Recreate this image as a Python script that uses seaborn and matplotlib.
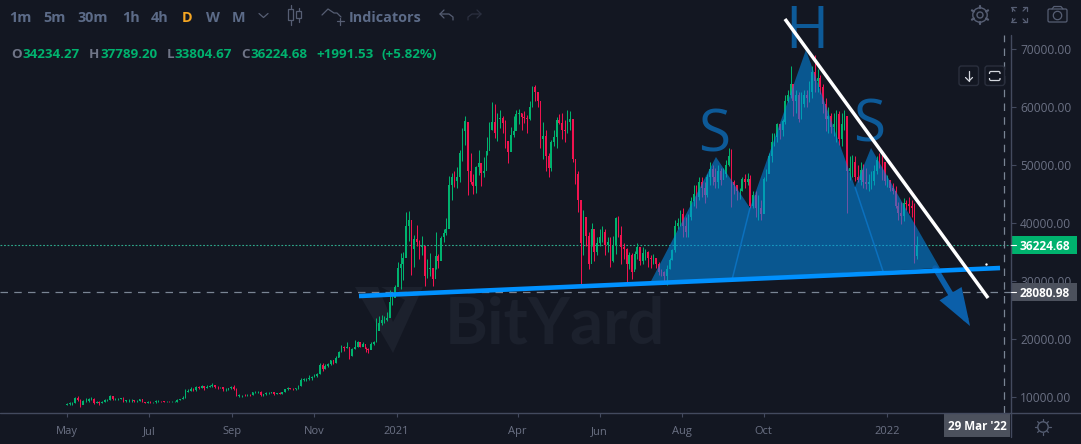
import numpy as np
import pandas as pd
import seaborn as sns
import matplotlib
matplotlib.use("Agg")
import matplotlib.pyplot as plt
from matplotlib.patches import Polygon, Rectangle, FancyBboxPatch, Circle, FancyArrowPatch
from matplotlib.ticker import FixedLocator, FixedFormatter, FormatStrFormatter

# Two-day BTC candles from 1 May 2020, prices in thousands of USD, grouped by month
closes_k = [
    8.8, 8.9, 9.0, 9.9, 9.5, 8.6, 9.3, 9.3, 9.7, 9.7, 9.0, 9.2, 8.9, 9.2, 9.4, 9.4,
    10.2, 9.6, 9.6, 9.7, 9.8, 9.3, 9.4, 9.4, 9.4, 9.3, 9.3, 9.6, 9.2, 9.0, 9.2,
    9.1, 9.1, 9.3, 9.3, 9.25, 9.2, 9.2, 9.15, 9.15, 9.2, 9.5, 9.6, 9.9, 10.9, 11.1,
    11.4, 11.2, 11.7, 11.6, 11.9, 11.6, 11.8, 11.9, 12.0, 11.8, 11.7, 11.7, 11.3, 11.4, 11.5, 11.7,
    11.4, 10.2, 10.3, 10.4, 10.3, 10.4, 10.3, 10.8, 10.9, 10.9, 10.4, 10.5, 10.7, 10.7, 10.8,
    10.6, 10.7, 10.6, 10.9, 11.3, 11.5, 11.4, 11.3, 11.5, 11.9, 12.9, 13.1, 13.1, 13.3, 13.5,
    13.7, 14.0, 15.6, 14.8, 15.3, 15.7, 16.3, 15.9, 16.7, 17.8, 18.7, 18.4, 18.7, 17.1, 18.2,
    18.7, 19.4, 18.7, 19.2, 18.2, 18.1, 19.2, 19.4, 21.3, 22.7, 23.2, 23.2, 23.7, 26.3, 27.0, 29.0,
    32.2, 33.0, 33.9, 39.4, 40.6, 35.5, 37.3, 36.8, 35.8, 36.0, 30.8, 32.0, 32.3, 30.4, 34.3,
    33.5, 37.5, 38.3, 39.0, 46.5, 47.9, 47.2, 47.9, 52.1, 55.9, 57.5, 48.9, 47.0, 46.3,
    49.6, 50.4, 48.6, 48.9, 52.4, 56.0, 57.4, 55.6, 57.9, 58.1, 57.3, 54.1, 52.3, 55.1, 55.8, 58.8,
    59.0, 58.2, 58.1, 57.9, 60.0, 63.4, 62.5, 61.0, 54.5, 55.0, 51.5, 49.5, 54.0, 54.9, 57.7,
    57.3, 56.0, 55.9, 57.5, 58.0, 51.0, 48.5, 44.0, 36.5, 41.0, 37.8, 33.0, 39.0, 35.0, 36.5,
    37.5, 38.5, 36.2, 36.8, 33.4, 36.0, 40.8, 38.0, 35.8, 35.5, 33.0, 34.5, 31.5, 34.6, 35.9,
    33.5, 34.8, 35.0, 34.0, 33.8, 34.0, 33.0, 31.6, 31.5, 30.9, 32.1, 33.6, 35.3, 39.4, 40.0, 41.5,
    39.5, 38.5, 41.0, 43.8, 45.0, 44.5, 47.0, 46.0, 44.8, 48.0, 49.3, 48.0, 47.0, 49.0, 47.5,
    48.5, 50.0, 51.5, 47.0, 46.5, 45.5, 45.5, 47.5, 47.0, 47.5, 43.0, 44.8, 42.5, 42.5, 41.5,
    47.5, 48.5, 51.5, 54.0, 54.8, 57.0, 56.0, 57.5, 61.0, 62.0, 64.0, 61.0, 62.0, 58.0, 60.5, 62.0,
    61.5, 62.5, 66.0, 64.5, 65.0, 63.5, 60.5, 58.0, 58.5, 56.5, 57.0, 58.8, 54.5, 57.0, 58.5,
    49.0, 49.5, 50.5, 48.0, 47.5, 49.2, 47.0, 46.8, 47.0, 47.2, 49.0, 50.8, 50.6, 50.5, 47.3,
    47.5, 46.0, 45.5, 43.0, 41.8, 41.2, 43.5, 43.2, 43.0, 42.6, 34.23427, 36.22468,
]
highs_k = [
    9.0, 9.2, 9.2, 10.0, 10.1, 9.6, 9.4, 9.8, 9.9, 10.0, 9.8, 9.3, 9.3, 9.3, 9.6, 9.7,
    10.4, 10.2, 9.9, 9.8, 9.9, 10.0, 9.5, 9.6, 9.6, 9.5, 9.4, 9.7, 9.7, 9.2, 9.3,
    9.3, 9.2, 9.4, 9.4, 9.35, 9.3, 9.3, 9.3, 9.25, 9.3, 9.6, 9.7, 10.1, 11.3, 11.4,
    11.7, 11.5, 11.9, 11.9, 12.1, 11.9, 12.0, 12.0, 12.5, 12.1, 11.9, 11.8, 11.8, 11.5, 11.6, 11.9,
    12.0, 11.5, 10.6, 10.4, 10.6, 10.5, 10.6, 10.9, 11.0, 11.1, 11.0, 10.6, 10.8, 10.9, 10.9,
    10.8, 10.7, 10.8, 10.9, 11.4, 11.7, 11.5, 11.5, 11.5, 12.0, 13.2, 13.2, 13.3, 13.8, 13.6,
    13.9, 14.2, 15.8, 15.9, 15.7, 15.9, 16.4, 16.2, 17.0, 18.0, 18.9, 18.8, 19.4, 17.6, 18.4,
    19.9, 19.6, 19.3, 19.4, 18.7, 18.5, 19.4, 19.6, 23.7, 23.9, 24.1, 23.9, 24.7, 28.4, 27.5, 29.3,
    33.3, 34.8, 35.0, 41.9, 42.0, 38.3, 38.0, 39.6, 37.0, 37.8, 35.5, 33.8, 34.8, 32.0, 38.5,
    34.6, 37.7, 38.9, 40.9, 48.1, 48.6, 48.9, 49.7, 52.6, 56.3, 58.4, 54.2, 52.0, 48.4,
    49.9, 52.6, 49.2, 51.4, 54.9, 57.4, 60.9, 60.6, 58.9, 59.5, 58.5, 57.8, 53.9, 56.6, 58.4, 59.5,
    59.7, 59.0, 59.3, 58.7, 61.0, 63.6, 63.8, 62.5, 58.0, 57.5, 56.0, 52.0, 54.3, 56.0, 58.3,
    58.8, 59.0, 57.8, 59.5, 59.3, 58.0, 50.8, 49.0, 41.8, 42.2, 41.0, 38.5, 40.0, 39.0, 37.5,
    39.0, 39.5, 39.0, 37.5, 37.5, 37.8, 41.0, 41.2, 39.5, 36.5, 35.7, 35.0, 34.8, 35.2, 36.5,
    35.2, 35.8, 35.5, 35.1, 34.5, 34.6, 34.0, 33.2, 32.0, 31.8, 32.8, 33.9, 35.5, 40.5, 40.9, 42.3,
    42.6, 41.0, 41.5, 44.5, 46.5, 46.5, 48.0, 48.0, 47.0, 48.5, 50.5, 50.0, 49.5, 50.0, 49.5,
    49.5, 50.8, 52.9, 52.8, 47.5, 46.5, 46.0, 48.0, 48.5, 48.6, 48.3, 45.5, 45.5, 44.8, 44.0,
    48.0, 49.3, 52.0, 55.5, 55.5, 57.3, 56.8, 58.0, 62.0, 63.0, 67.0, 63.5, 63.0, 62.5, 62.5, 63.0,
    63.0, 64.5, 67.0, 69.0, 66.5, 65.5, 64.0, 61.5, 60.0, 59.0, 59.0, 59.5, 59.3, 59.0, 59.5,
    57.0, 51.5, 51.8, 51.5, 50.0, 50.5, 50.2, 49.5, 48.5, 49.0, 50.0, 51.5, 52.0, 51.9, 50.5,
    48.2, 46.9, 46.9, 46.3, 43.7, 43.6, 44.3, 44.0, 44.5, 44.0, 43.5, 37.7892,
]
lows_k = [
    8.6, 8.7, 8.7, 9.0, 9.3, 8.2, 8.8, 9.1, 9.2, 9.5, 8.8, 9.0, 8.7, 8.9, 9.2, 9.3,
    9.4, 9.4, 9.4, 9.5, 9.6, 9.1, 9.2, 9.2, 9.2, 9.2, 9.2, 9.3, 9.1, 8.9, 9.0,
    9.0, 9.0, 9.0, 9.2, 9.1, 9.1, 9.1, 9.1, 9.1, 9.1, 9.2, 9.4, 9.6, 9.9, 10.9,
    11.0, 11.0, 11.1, 11.4, 11.6, 11.2, 11.5, 11.7, 11.7, 11.6, 11.4, 11.5, 11.1, 11.1, 11.2, 11.4,
    11.2, 10.1, 10.0, 10.0, 10.2, 10.2, 10.2, 10.3, 10.7, 10.7, 10.2, 10.1, 10.4, 10.6, 10.7,
    10.4, 10.5, 10.5, 10.5, 10.9, 11.2, 11.3, 11.2, 11.2, 11.4, 11.9, 12.7, 12.8, 12.9, 13.0,
    13.4, 13.4, 13.9, 14.4, 14.8, 15.2, 15.6, 15.7, 15.9, 16.9, 17.7, 18.0, 18.5, 16.5, 17.1,
    18.2, 18.6, 18.6, 18.9, 17.7, 17.6, 18.9, 19.0, 19.5, 21.9, 22.4, 22.7, 23.1, 24.5, 25.9, 27.9,
    29.5, 28.6, 30.2, 36.2, 36.9, 31.0, 32.4, 36.0, 33.8, 34.5, 29.2, 30.5, 30.8, 29.2, 32.0,
    32.3, 35.3, 36.8, 37.9, 44.9, 44.0, 46.2, 46.1, 47.0, 50.7, 53.5, 44.9, 46.8, 45.0,
    45.1, 48.2, 46.3, 48.0, 51.8, 53.0, 56.0, 54.6, 54.1, 56.3, 55.5, 53.0, 50.4, 53.9, 54.9, 56.9,
    57.0, 56.0, 57.3, 55.5, 57.8, 60.0, 61.0, 60.0, 53.0, 51.0, 48.9, 47.9, 49.0, 53.3, 53.0,
    57.0, 54.5, 54.0, 55.5, 56.0, 50.5, 46.7, 41.9, 29.3, 34.5, 36.0, 32.0, 36.0, 33.5, 34.5,
    36.0, 36.8, 34.5, 35.0, 32.5, 33.2, 34.7, 37.5, 33.0, 33.8, 29.5, 32.0, 30.3, 32.0, 33.8,
    32.8, 33.0, 33.7, 32.5, 32.3, 33.0, 32.2, 31.0, 30.8, 29.9, 29.3, 32.0, 33.6, 35.0, 38.9, 39.5,
    37.5, 37.5, 37.5, 40.5, 43.0, 42.5, 44.0, 44.5, 43.5, 44.5, 46.5, 46.5, 46.0, 46.0, 46.5,
    47.8, 48.0, 49.8, 42.8, 45.0, 44.0, 44.2, 45.5, 46.0, 46.5, 42.6, 42.5, 41.0, 40.6, 40.5,
    43.0, 47.2, 48.7, 50.5, 53.3, 54.0, 54.5, 55.0, 57.0, 60.8, 61.5, 58.5, 59.0, 57.5, 58.0, 60.0,
    60.0, 60.8, 61.5, 62.5, 62.5, 62.3, 59.0, 55.8, 55.6, 55.5, 55.0, 54.0, 53.5, 53.3, 56.0,
    41.7, 47.5, 48.0, 47.2, 47.0, 46.5, 46.0, 45.8, 45.6, 45.8, 46.5, 48.5, 49.5, 47.5, 46.5,
    46.2, 45.5, 45.0, 42.5, 40.5, 39.8, 40.3, 42.2, 41.8, 41.0, 33.1, 33.80467,
]
first_open_k = 8.7
candle_step_days = 2

# Head-and-shoulders drawing anchors: days since 1 May 2020, thousands of USD
pattern_days = [433.5, 482.5, 507.8, 549.4, 585.9, 597.8, 649.0]
pattern_prices = [29.66, 51.38, 42.59, 69.83, 46.2, 52.93, 32.24]
inner_left_days, inner_left_prices = [494.4, 507.8], [30.17, 42.59]
inner_right_days, inner_right_prices = [585.9, 607.4], [46.2, 31.2]
neckline_days, neckline_prices = [217.1, 693.7], [27.41, 32.24]
resistance_days, resistance_prices = [533.8, 684.8], [75.17, 27.07]
arrow_days, arrow_prices = [645.4, 671.4], [32.24, 22.24]
stray_dot_day, stray_dot_price = 683.3, 32.93
pattern_labels = ["S", "H", "S"]
label_days = [481.0, 550.0, 596.2]
label_prices = [52.41, 70.17, 53.97]

last_price = 36224.68
marked_level = 28080.98
cursor_day = 697

y_ticks = [10000, 20000, 30000, 40000, 50000, 60000, 70000]
x_tick_days = [0, 61, 123, 184, 245, 335, 396, 457, 518, 610]
x_tick_labels = ["May", "Jul", "Sep", "Nov", "2021", "Apr", "Jun", "Aug", "Oct", "2022"]

timeframes = ["1m", "5m", "30m", "1h", "4h", "D", "W", "M"]
timeframe_x = [20.5, 55, 93, 131, 160, 187, 213, 238.5]
legend_parts = [("O", 11, "g"), ("34234.27", 22, "v"), ("H", 89, "g"), ("37789.20", 100, "v"),
                ("L", 167, "g"), ("33804.67", 174, "v"), ("C", 241, "g"), ("36224.68", 250, "v"),
                ("+1991.53", 316, "v"), ("(+5.82%)", 382, "v")]

BG = "#131722"
UP = "#00B26E"
DOWN = "#F0134F"
AXIS = "#434A5E"
TICK = "#6B7184"
FILL = "#028CEC"
TAG = "#4C515D"
W, H = 1081, 444
UI_FONT = "Open Sans"

sns.set_theme(style="dark", rc={"figure.facecolor": BG, "axes.facecolor": BG, "font.family": UI_FONT,
                                "savefig.facecolor": BG, "axes.grid": False})
closes = np.array(closes_k) * 1000
highs = np.array(highs_k) * 1000
lows = np.array(lows_k) * 1000
opens = np.r_[first_open_k * 1000, closes[:-1]]
days = np.arange(len(closes)) * candle_step_days
candles = pd.DataFrame({"day": days, "open": opens, "high": highs, "low": lows, "close": closes})
candles["colour"] = np.where(candles["close"] >= candles["open"], UP, DOWN)

fig = plt.figure(figsize=(W / 100, H / 100), dpi=100)


def pixel_axes(zorder):
    a = fig.add_axes([0, 0, 1, 1], zorder=zorder)
    a.set_xlim(0, W)
    a.set_ylim(H, 0)
    a.axis("off")
    a.patch.set_alpha(0)
    return a


under = pixel_axes(0)
over = pixel_axes(5)

# Price pane: x in days since the start date, y in USD
ax = fig.add_axes([0, (H - 413) / H, 1011 / W, (413 - 35) / H], zorder=2)
ax.patch.set_alpha(0)
ax.set_xlim(-67 / 1.345, (1011 - 67) / 1.345)
ax.set_ylim((70 - 364 / 5.8) * 1000, (70 + 14 / 5.8) * 1000)
for side in ("left", "top", "right", "bottom"):
    ax.spines[side].set_visible(False)

ax.vlines(candles["day"], candles["low"], candles["high"], colors=candles["colour"], lw=0.72, zorder=2)
ax.bar(candles["day"], (candles["close"] - candles["open"]).abs(), bottom=candles[["open", "close"]].min(axis=1),
       width=1.2, color=candles["colour"], linewidth=0, zorder=3)

ax.axhline(last_price, color="#2FA98C", lw=0.8, dashes=(1.6, 1.6), zorder=1)
ax.axhline(marked_level, color="#7A8594", lw=0.9, dashes=(6, 5), zorder=1)
ax.axvline(cursor_day, color="#7A8594", lw=0.9, dashes=(6, 5), zorder=1)

ax.add_patch(Polygon(np.c_[pattern_days, np.array(pattern_prices) * 1000], closed=True,
                     facecolor=FILL, edgecolor="none", alpha=0.55, zorder=4))
for dx, dy in ((inner_left_days, inner_left_prices), (inner_right_days, inner_right_prices)):
    ax.plot(dx, np.array(dy) * 1000, color="#0B70BE", lw=1.1, zorder=4.2)

for label, d, p in zip(pattern_labels, label_days, label_prices):
    ax.text(d, p * 1000, label, color="#0D5A98", fontsize=42, ha="center", va="baseline",
            family="Open Sans", clip_on=False, zorder=4.5)

arrow = FancyArrowPatch((arrow_days[0], arrow_prices[0] * 1000), (arrow_days[1], arrow_prices[1] * 1000),
                        arrowstyle="-|>,head_length=1.9,head_width=0.65", mutation_scale=10, lw=4.0,
                        color="#0B5FA9", shrinkA=0, shrinkB=0, zorder=5, clip_on=False, joinstyle="miter")
ax.add_patch(arrow)

sns.lineplot(x=neckline_days, y=np.array(neckline_prices) * 1000, ax=ax, color="#0091FF", lw=3.3,
             zorder=6, legend=False, estimator=None, sort=False)
resistance = sns.lineplot(x=resistance_days, y=np.array(resistance_prices) * 1000, ax=ax, color="white", lw=2.5,
                          zorder=7, legend=False, estimator=None, sort=False)
for line in resistance.get_lines():
    line.set_clip_on(False)
    line.set_solid_capstyle("butt")
ax.scatter([stray_dot_day], [stray_dot_price * 1000], s=3, color="white", linewidths=0, zorder=7)

ax.set_xlabel("")
ax.set_ylabel("")
ax.yaxis.tick_right()
ax.yaxis.set_major_locator(FixedLocator(y_ticks))
ax.yaxis.set_major_formatter(FormatStrFormatter("%.2f"))
ax.xaxis.set_major_locator(FixedLocator(x_tick_days))
ax.xaxis.set_major_formatter(FixedFormatter(x_tick_labels))
ax.tick_params(axis="y", length=3.6, width=0.8, color=AXIS, labelcolor=TICK, labelsize=8.6, pad=3, right=True)
ax.tick_params(axis="x", length=2.6, width=0.8, color=AXIS, labelcolor=TICK, labelsize=8.0, pad=6.5, bottom=True)
for tick in ax.get_yticklabels() + ax.get_xticklabels():
    tick.set_family(UI_FONT)

# Pale watermark beneath the candles
under.add_patch(Polygon([(355, 287), (378, 287), (393, 322), (405, 300), (381, 287), (423, 287),
                         (393, 353)], closed=True, facecolor="#1C212D", edgecolor="none"))
under.text(445, 343, "BitYard", color="#1C212D", fontsize=47, fontweight="bold", family="Lato",
           ha="left", va="baseline")

# Pane frame
over.plot([0, W], [413, 413], color=AXIS, lw=1)
over.plot([1011, 1011], [35, 437], color=AXIS, lw=1)


def price_tag(y_top, y_bot, colour, text):
    over.add_patch(Rectangle((1011, y_top), 66, y_bot - y_top, facecolor=colour, edgecolor="none"))
    over.plot([1011, 1016], [(y_top + y_bot) / 2] * 2, color="white", lw=0.8)
    over.text(1044.5, (y_top + y_bot) / 2, text, color="white", fontsize=8.6, fontweight="bold",
              ha="center", va="center_baseline")


price_tag(236, 254, UP, f"{last_price:.2f}")
price_tag(283, 301, TAG, f"{marked_level:.2f}")
over.add_patch(Rectangle((944, 413), 66, 24, facecolor=TAG, edgecolor="none"))
over.text(977, 425, "29 Mar '22", color="white", fontsize=8.4, fontweight="bold", ha="center",
          va="center_baseline")

# Toolbar
for label, x in zip(timeframes, timeframe_x):
    over.text(x, 16, label, color="#F5A623" if label == "D" else "#5C6B88", fontsize=10.4,
              fontweight="bold", ha="center", va="center_baseline")
over.text(349, 16, "Indicators", color="#5C6B88", fontsize=10.4, fontweight="bold", ha="left",
          va="center_baseline")
for label, x, kind in legend_parts:
    over.text(x, 52.5, label, color="#6F7587" if kind == "g" else UP, fontsize=9.6, fontweight="bold",
              ha="left", va="center_baseline")

ICON = "#565E73"
over.plot([259, 263.5, 268], [13.5, 17.5, 13.5], color=ICON, lw=0.9)
for cx, y0, y1, t, b in ((290.5, 5, 25, 9, 20), (298.5, 8, 22, 11, 18)):
    over.plot([cx, cx], [y0, t], color=ICON, lw=0.9)
    over.plot([cx, cx], [b, y1], color=ICON, lw=0.9)
    over.add_patch(Rectangle((cx - 2.5, t), 5, b - t, fill=False, edgecolor=ICON, lw=0.9))
over.plot([322, 328, 334, 337, 341], [15, 9, 13, 13, 17], color=ICON, lw=0.9)
over.plot([340, 340], [18, 25], color=ICON, lw=0.9)
over.plot([336.5, 343.5], [21.5, 21.5], color=ICON, lw=0.9)
over.plot([444, 440, 444], [10, 14, 18], color=ICON, lw=0.9)
over.plot([440, 449, 453, 453], [14, 14, 17, 20], color=ICON, lw=0.9)
over.plot([477, 481, 477], [10, 14, 18], color="#2B3040", lw=0.9)
over.plot([481, 472, 468, 468], [14, 14, 17, 20], color="#2B3040", lw=0.9)

over.add_patch(Circle((980, 15), 7.2, fill=False, edgecolor=ICON, lw=1.0))
over.add_patch(Circle((980, 15), 3, fill=False, edgecolor=ICON, lw=1.0))
for ang in np.arange(0, 360, 60) + 30:
    c, s = np.cos(np.radians(ang)), np.sin(np.radians(ang))
    over.plot([980 + 7 * c, 980 + 9.3 * c], [15 + 7 * s, 15 + 9.3 * s], color=ICON, lw=1.6)
for sx, sy in ((-1, -1), (1, -1), (-1, 1), (1, 1)):
    cx, cy = 1019 + 7.5 * sx, 15 + 7.5 * sy
    over.plot([cx, cx - 3.5 * sx], [cy, cy - 3.5 * sy], color=ICON, lw=0.9)
    over.plot([cx - 4 * sx, cx, cx], [cy, cy, cy - 4 * sy], color=ICON, lw=0.9)
over.add_patch(FancyBboxPatch((1048, 9), 19, 13, boxstyle="round,pad=0,rounding_size=1.5", fill=False,
                              edgecolor=ICON, lw=0.9))
over.plot([1052, 1054, 1061, 1063], [9, 6.5, 6.5, 9], color=ICON, lw=0.9)
over.add_patch(Circle((1057.5, 15.5), 4.2, fill=False, edgecolor=ICON, lw=0.9))

for x in (959, 985):
    over.add_patch(FancyBboxPatch((x, 66), 19.5, 19.5, boxstyle="round,pad=0,rounding_size=2.5",
                                  facecolor=BG, edgecolor="#2A2F3D", lw=1))
over.plot([969, 969], [71, 81], color="#D5D8DF", lw=0.9)
over.plot([965.5, 969, 972.5], [77.5, 81, 77.5], color="#D5D8DF", lw=0.9)
over.add_patch(FancyBboxPatch((989.5, 71.5), 10.5, 9, boxstyle="round,pad=0,rounding_size=1.5", fill=False,
                              edgecolor="#D5D8DF", lw=0.9))
over.add_patch(Rectangle((988, 74), 14, 4, facecolor=BG, edgecolor="none"))

over.add_patch(Circle((1043, 427), 5.2, fill=False, edgecolor=ICON, lw=1.0))
for ang in np.arange(0, 360, 45):
    c, s = np.cos(np.radians(ang)), np.sin(np.radians(ang))
    over.plot([1043 + 6.4 * c, 1043 + 7.6 * c], [427 + 6.4 * s, 427 + 7.6 * s], color=ICON, lw=0.9)

fig.savefig("out.png", dpi=100, facecolor=BG)
